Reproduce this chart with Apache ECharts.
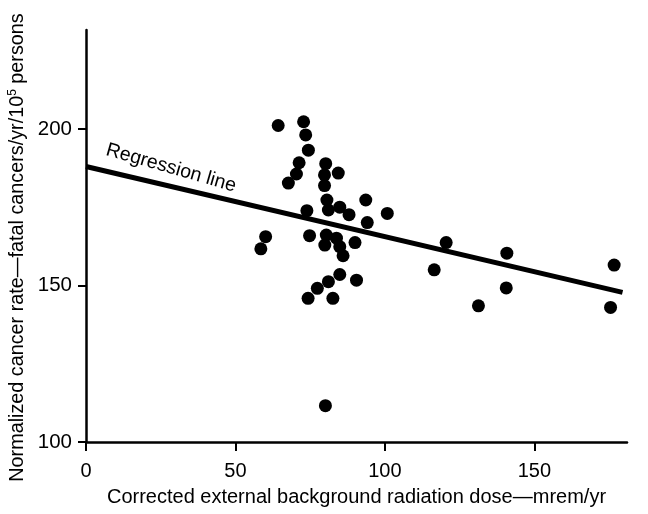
<!DOCTYPE html>
<html>
<head>
<meta charset="utf-8">
<script src="https://cdn.jsdelivr.net/npm/echarts@6/dist/echarts.min.js"></script>
<style>
html,body{margin:0;padding:0;background:#fff;}
#c{width:648px;height:514px;}
</style>
</head>
<body>
<div id="c"></div>
<script>
// Data
var doseValues = [64.3,72.8,73.5,74.4,71.3,70.4,67.7,80.2,79.8,79.8,84.4,80.6,81.1,73.9,84.9,88.0,93.6,100.8,94.1,60.1,58.5,74.8,80.4,79.9,83.8,84.9,90.0,86.0,84.9,81.1,77.4,90.5,74.3,82.6,116.5,120.5,140.8,140.6,131.3,176.7,175.5,80.1];
var rateValues = [201.1,202.3,198.1,193.2,189.2,185.6,182.7,188.9,185.3,181.9,185.9,177.3,174.1,173.9,175.0,172.6,177.3,173.0,170.1,165.6,161.7,165.9,166.1,162.9,165.1,162.4,163.7,159.5,153.5,151.2,149.1,151.7,145.9,145.9,155.0,163.7,160.3,149.2,143.5,156.5,143.0,111.6];
var regressionX = [0, 179.5];
var regressionY = [188.0, 147.8];
var xTicks = [0, 50, 100, 150];
var yTicks = [100, 150, 200];

var FONT = 'Liberation Sans, Arial, Helvetica, sans-serif';
var points = doseValues.map(function (x, i) { return [x, rateValues[i]]; });
var regLine = regressionX.map(function (x, i) { return [x, regressionY[i]]; });

var chart = echarts.init(document.getElementById('c'), null, {renderer: 'canvas'});
chart.setOption({
  animation: false,
  backgroundColor: '#fff',
  grid: {left: 86, right: 21, top: 30, bottom: 72, containLabel: false},
  xAxis: {
    type: 'value', min: 0, max: 181,
    splitLine: {show: false},
    axisLine: {show: true, onZero: false, lineStyle: {color: '#000', width: 2.5}},
    axisTick: {show: true, length: 9, lineStyle: {color: '#000', width: 2}, customValues: xTicks},
    axisLabel: {color: '#000', fontSize: 20, fontFamily: FONT, margin: 19, customValues: xTicks},
    name: 'Corrected external background radiation dose\u2014mrem/yr',
    nameLocation: 'middle', nameGap: 45,
    nameTextStyle: {color: '#000', fontSize: 20, fontFamily: FONT}
  },
  yAxis: {
    type: 'value', min: 100, max: 231.6,
    splitLine: {show: false},
    axisLine: {show: true, onZero: false, lineStyle: {color: '#000', width: 2.5}},
    axisTick: {show: true, length: 8, lineStyle: {color: '#000', width: 2}, customValues: yTicks},
    axisLabel: {color: '#000', fontSize: 20.5, fontFamily: FONT, margin: 14, customValues: yTicks}
  },
  graphic: [
    {
      type: 'text', x: 18, y: 247.5, rotation: Math.PI / 2,
      style: {
        text: '{a|Normalized cancer rate\u2014fatal cancers/yr/10}{s|5}{a| persons}',
        align: 'center', verticalAlign: 'middle',
        rich: {
          a: {fontSize: 19.8, fontFamily: FONT, fill: '#000', color: '#000', lineHeight: 22},
          s: {fontSize: 12, fontFamily: FONT, fill: '#000', color: '#000', lineHeight: 22, verticalAlign: 'top'}
        }
      }
    },
    {
      type: 'text', x: 171, y: 168, rotation: -16 * Math.PI / 180,
      style: {
        text: 'Regression line', fontSize: 19.5, fontFamily: FONT, fill: '#000',
        align: 'center', verticalAlign: 'middle'
      }
    }
  ],
  series: [
    {
      type: 'line', data: regLine, symbol: 'none', silent: true,
      lineStyle: {color: '#000', width: 5}, z: 2
    },
    {
      type: 'scatter', data: points, symbol: 'circle', symbolSize: 13,
      itemStyle: {color: '#000', opacity: 1}, z: 3
    }
  ]
});
</script>
</body>
</html>
